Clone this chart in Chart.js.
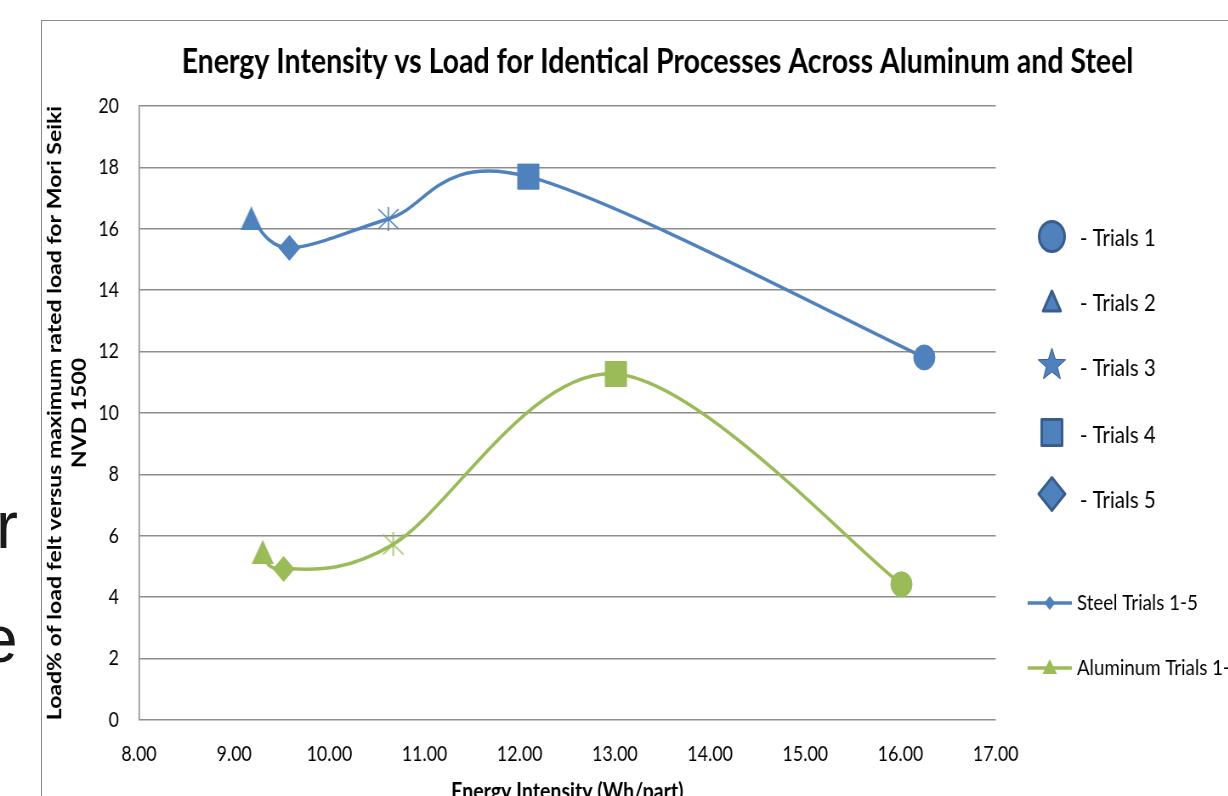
<!DOCTYPE html>
<html>
<head>
<meta charset="utf-8">
<script src="https://cdn.jsdelivr.net/npm/chart.js@4/dist/chart.umd.min.js"></script>
<style>
html,body{margin:0;padding:0;background:#fff;width:1228px;height:796px;overflow:hidden;position:relative}
#frame{position:absolute;left:41px;top:20px;width:1300px;height:900px;border-left:1px solid #8c8c8c;border-top:1px solid #8c8c8c}
.bg{position:absolute;font-family:"Liberation Sans",Arial,sans-serif;font-size:66px;line-height:1;color:#1a1a1a}
#wrap{position:absolute;left:0;top:0;width:1547px;height:830px;transform:scaleX(0.85);transform-origin:0 0}
</style>
</head>
<body>
<span class="bg" style="left:-4px;top:492px">r</span>
<span class="bg" style="left:-19px;top:606px">e</span>
<div id="frame"></div>
<div id="wrap"><canvas id="chart" width="1547" height="830"></canvas></div>
<script>
// values, points ordered by energy intensity
const steelX=[9.18,9.58,10.62,12.09,16.25];
const steelY=[16.34,15.38,16.32,17.70,11.81];
const aluX=[9.30,9.52,10.67,13.01,16.01];
const aluY=[5.48,4.92,5.72,11.27,4.42];
// which trial each point is (sets its marker)
const steelTrial=[2,5,3,4,1];
const aluTrial=[2,5,3,4,1];

const xMin=8,xMax=17,xStep=1;
const yMin=0,yMax=20,yStep=2;

const trialLabels=["- Trials 1","- Trials 2","- Trials 3","- Trials 4","- Trials 5"];
const seriesLabels=["Steel Trials 1-5","Aluminum Trials 1-5"];
const titleText="Energy Intensity vs Load for Identical Processes Across Aluminum and Steel";
const yTitle=["Load% of load felt versus maximum rated load for Mori Seiki","NVD 1500"];
const xTitle="Energy Intensity (Wh/part)";

const BLUE="#4F81BD",GREEN="#9BBB59",GRID="#8c8c8c",EDGE="#385D8A";
const FONT="Lato";

Chart.defaults.font.family=FONT;
Chart.defaults.color="#000";

// excel style asterisk marker
function asterisk(color){
let c=document.createElement("canvas");
c.width=26;c.height=24;
let g=c.getContext("2d");
g.strokeStyle=color;g.lineWidth=1.6;
g.beginPath();
g.moveTo(13,0);g.lineTo(13,24);
g.moveTo(1,2);g.lineTo(25,22);
g.moveTo(25,2);g.lineTo(1,22);
g.stroke();
return c;
}
// triangle centred on its box, like excel draws it
function triangle(color){
let c=document.createElement("canvas");
c.width=26;c.height=24;
let g=c.getContext("2d");
g.fillStyle=color;
g.beginPath();
g.moveTo(13,0);g.lineTo(26,24);g.lineTo(0,24);g.closePath();
g.fill();
return c;
}

const markerStyle={1:"circle",4:"rect",5:"rectRot"};
const markerRadius={1:12.5,2:13,3:13,4:17.7,5:12.5};

function pts(xs,ys){return xs.map((x,i)=>({x:x,y:ys[i]}));}
function styles(trials,color){
let star=asterisk(color),tri=triangle(color);
return trials.map(t=>t===3?star:t===2?tri:markerStyle[t]);
}

// excel smoothed line: control points at +-(next-prev)/6
const excelSmooth={
id:"excelSmooth",
beforeDatasetDraw(chart,args){
let meta=args.meta,line=meta.dataset;
if(!line) return;
line.updateControlPoints(chart.chartArea,meta.indexAxis);
let p=meta.data;
for(let i=0;i<p.length;i++){
let a=p[i-1]||p[i],b=p[i+1]||p[i];
let dx=(b.x-a.x)/6,dy=(b.y-a.y)/6;
p[i].cp1x=p[i].x-dx;p[i].cp1y=p[i].y-dy;
p[i].cp2x=p[i].x+dx;p[i].cp2y=p[i].y+dy;
}
line._path=undefined;
}
};

function trialIcon(ctx,n,x,y){
ctx.save();
ctx.fillStyle=BLUE;ctx.strokeStyle=EDGE;ctx.lineWidth=3;ctx.lineJoin="round";
ctx.beginPath();
if(n===1){ctx.arc(x,y,15,0,Math.PI*2);}
else if(n===2){ctx.moveTo(x,y-10.5);ctx.lineTo(x+10.3,y+9.5);ctx.lineTo(x-10.3,y+9.5);ctx.closePath();}
else if(n===3){
for(let k=0;k<10;k++){
let r=k%2?7:17,an=-Math.PI/2+k*Math.PI/5;
ctx.lineTo(x+r*Math.cos(an),y+r*Math.sin(an));
}
ctx.closePath();ctx.lineWidth=1;
}
else if(n===4){ctx.rect(x-12,y-13,24,26);}
else{ctx.moveTo(x,y-16.5);ctx.lineTo(x+15.5,y);ctx.lineTo(x,y+16.5);ctx.lineTo(x-15.5,y);ctx.closePath();}
ctx.fill();ctx.stroke();
ctx.restore();
}

function seriesIcon(ctx,color,shape,x0,x1,mx,y){
ctx.save();
ctx.strokeStyle=color;ctx.lineWidth=3.5;
ctx.beginPath();ctx.moveTo(x0,y);ctx.lineTo(x1,y);ctx.stroke();
ctx.fillStyle=color;ctx.beginPath();
if(shape==="diamond"){ctx.moveTo(mx,y-7);ctx.lineTo(mx+6.5,y);ctx.lineTo(mx,y+7);ctx.lineTo(mx-6.5,y);}
else{ctx.moveTo(mx,y-9);ctx.lineTo(mx+8.5,y+6);ctx.lineTo(mx-8.5,y+6);}
ctx.closePath();ctx.fill();
ctx.restore();
}

// legend on the right, as in the excel sheet
const sideLegend={
id:"sideLegend",
afterDraw(chart){
let ctx=chart.ctx;
let iconX=1237.5,textX=1270.5;
let iconY=[236.5,301.5,365,432.5,494];
let textY=[238,303.5,368.5,435,500];
ctx.save();
ctx.textBaseline="middle";ctx.textAlign="left";ctx.fillStyle="#000";
trialLabels.forEach((t,i)=>{
trialIcon(ctx,i+1,iconX,iconY[i]);
ctx.font="24px "+FONT;ctx.fillStyle="#000";
ctx.fillText(t,textX,textY[i]);
});
let sy=[603,668];
seriesIcon(ctx,BLUE,"diamond",1209,1261,1235,sy[0]);
seriesIcon(ctx,GREEN,"triangle",1209,1261,1235,sy[1]);
ctx.font="22px "+FONT;ctx.fillStyle="#000";
ctx.fillText(seriesLabels[0],1267,sy[0]);
ctx.fillText(seriesLabels[1],1267,sy[1]);
ctx.restore();
}
};

const ctx=document.getElementById("chart").getContext("2d");
new Chart(ctx,{
type:"line",
data:{
datasets:[
{label:seriesLabels[0],data:pts(steelX,steelY),borderColor:BLUE,backgroundColor:BLUE,borderWidth:3.5,tension:0.4,
pointStyle:styles(steelTrial,BLUE),pointRadius:steelTrial.map(t=>markerRadius[t]),
pointBackgroundColor:BLUE,pointBorderColor:BLUE,pointBorderWidth:1},
{label:seriesLabels[1],data:pts(aluX,aluY),borderColor:GREEN,backgroundColor:GREEN,borderWidth:3.5,tension:0.4,
pointStyle:styles(aluTrial,GREEN),pointRadius:aluTrial.map(t=>markerRadius[t]),
pointBackgroundColor:GREEN,pointBorderColor:GREEN,pointBorderWidth:1}
]
},
options:{
responsive:false,
animation:false,
layout:{padding:{left:0,right:0,top:0,bottom:10}},
plugins:{
legend:{display:false},
tooltip:{enabled:false},
title:{display:true,text:titleText,color:"#000",
font:{family:FONT,size:33.5,weight:"bold"},padding:{top:42.3,bottom:23.5}}
},
scales:{
x:{type:"linear",min:xMin,max:xMax,
ticks:{stepSize:xStep,autoSkip:false,padding:21.4,font:{size:21},color:"#000",maxRotation:0,
callback:v=>v.toFixed(2)},
grid:{display:false,drawTicks:false},
border:{display:false},
title:{display:true,text:xTitle,font:{size:23,weight:"bold"},color:"#000",padding:{top:0,bottom:14.2}},
afterFit:s=>{s.height=100;}
},
y:{min:yMin,max:yMax,
ticks:{stepSize:yStep,autoSkip:false,padding:23.5,font:{size:21},color:"#000"},
grid:{color:GRID,lineWidth:1.5,drawTicks:false},
border:{display:true,color:GRID,width:1.5},
title:{display:true,text:yTitle,font:{size:23,weight:"bold",lineHeight:1.26},color:"#000",padding:{top:50.2,bottom:0}},
afterFit:s=>{s.width=163.5;}
},
// empty box on the right that holds the legend space
side:{position:"right",display:true,grid:{display:false,drawTicks:false},border:{display:false},
ticks:{display:false},afterFit:s=>{s.width=375.6;}}
}
},
plugins:[excelSmooth,sideLegend]
});
</script>
</body>
</html>
